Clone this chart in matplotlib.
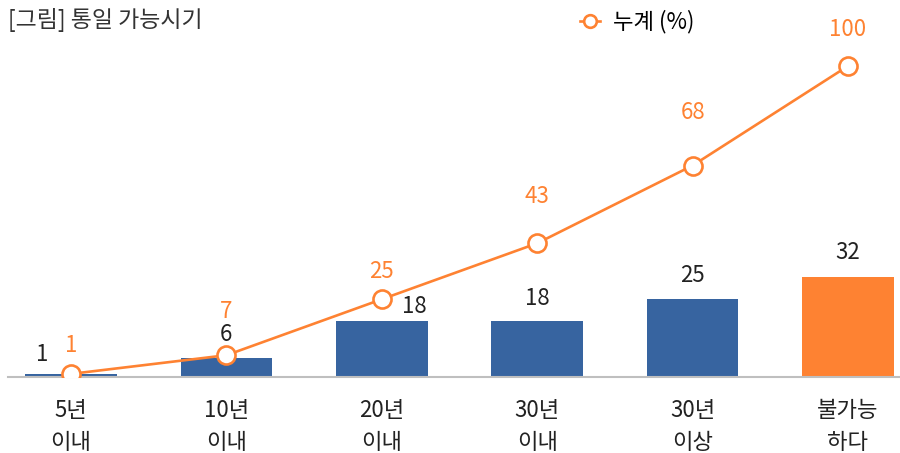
import matplotlib
matplotlib.use("Agg")
import matplotlib.pyplot as plt
import numpy as np

plt.rcParams["font.family"] = ["Noto Sans CJK KR", "DejaVu Sans"]

categories = ["5년\n이내", "10년\n이내", "20년\n이내", "30년\n이내", "30년\n이상", "불가능\n하다"]
share = [1, 6, 18, 18, 25, 32]          # 막대 (%)
cumulative = [1, 7, 25, 43, 68, 100]    # 누계 (%)

BLUE = "#3764a0"
ORANGE = "#fe8232"
TXT = "#222222"
FS = 16

W, H = 900, 453
fig = plt.figure(figsize=(W / 100, H / 100), dpi=100)
# 축 위치: 픽셀 기준 (좌 8, 기준선 y=377, 위 20)
ax = fig.add_axes([8 / W, (H - 377) / H, 1 - 8 / W, (377 - 20) / H])

x = np.arange(len(categories))
colors = [BLUE] * (len(categories) - 1) + [ORANGE]
ax.bar(x, share, width=0.59, color=colors, zorder=2)
ax.plot(x, cumulative, "-o", color=ORANGE, lw=1.9, ms=13, mfc="white",
        mec=ORANGE, mew=1.9, zorder=3, label="누계 (%)")

ax.set_xlim((8 - 71) / 155.4, (900 - 71) / 155.4)
ax.set_ylim(0, (377 - 20) / 3.11)

# 라벨 위치 (px, 라벨 중심 기준) - 겹치는 곳은 옆으로
bar_offsets = [(-29, 19), (0, 24), (33, 15), (0, 23), (0, 24), (0, 25)]
line_offsets = [(0, 28), (0, 44), (0, 28), (0, 47), (0, 53), (0, 36)]
for xi, v, (dx, dy) in zip(x, share, bar_offsets):
    ax.annotate(f"{v}", (xi, v), textcoords="offset pixels", xytext=(dx, dy),
                ha="center", va="center", fontsize=FS, color=TXT)
for xi, v, (dx, dy) in zip(x, cumulative, line_offsets):
    ax.annotate(f"{v}", (xi, v), textcoords="offset pixels", xytext=(dx, dy),
                ha="center", va="center", fontsize=FS, color=ORANGE)

for s in ["top", "right", "left"]:
    ax.spines[s].set_visible(False)
ax.spines["bottom"].set_color("#bfbfbf")
ax.spines["bottom"].set_linewidth(1.5)
ax.set_yticks([])
ax.set_xticks(x)
ax.set_xticklabels(categories, fontsize=FS, color=TXT, linespacing=1.5)
ax.tick_params(axis="x", length=0, pad=16)

fig.text(8 / W, 1 - 20 / H, "[그림] 통일 가능시기", fontsize=16.5, color="#333333",
         ha="left", va="center")
ax.legend(loc="center left", bbox_to_anchor=(560 / W, 1 - 22 / H),
          bbox_transform=fig.transFigure, frameon=False, fontsize=FS,
          handlelength=0.9, markerscale=0.7, handletextpad=0.6)

fig.savefig("out.png", dpi=100)
